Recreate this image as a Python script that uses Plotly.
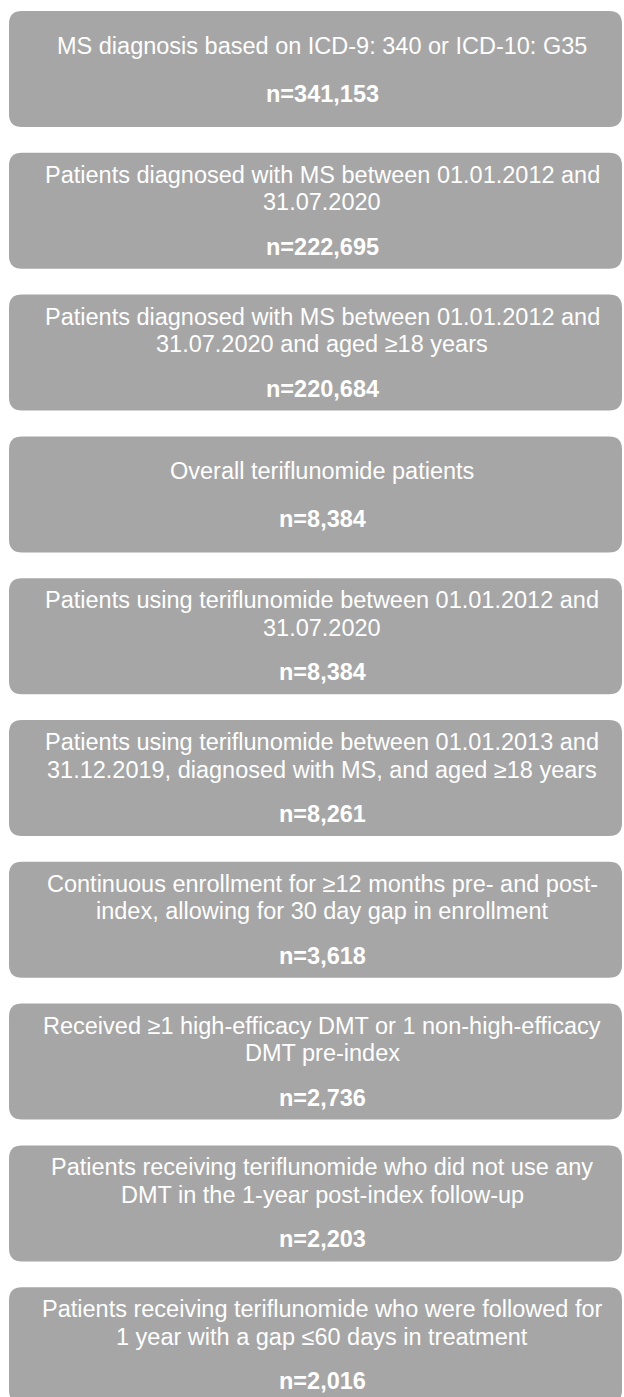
import plotly.graph_objects as go

# Data
steps = [
    "MS diagnosis based on ICD-9: 340 or ICD-10: G35",
    "Patients diagnosed with MS between 01.01.2012 and<br>31.07.2020",
    "Patients diagnosed with MS between 01.01.2012 and<br>31.07.2020 and aged ≥18 years",
    "Overall teriflunomide patients",
    "Patients using teriflunomide between 01.01.2012 and<br>31.07.2020",
    "Patients using teriflunomide between 01.01.2013 and<br>31.12.2019, diagnosed with MS, and aged ≥18 years",
    "Continuous enrollment for ≥12 months pre- and post-<br>index, allowing for 30 day gap in enrollment",
    "Received ≥1 high-efficacy DMT or 1 non-high-efficacy<br>DMT pre-index",
    "Patients receiving teriflunomide who did not use any<br>DMT in the 1-year post-index follow-up",
    "Patients receiving teriflunomide who were followed for<br>1 year with a gap ≤60 days in treatment",
]
counts = [341153, 222695, 220684, 8384, 8384, 8261, 3618, 2736, 2203, 2016]

W, H = 624, 1397
BOX_LEFT, BOX_RIGHT = 9, 622
FIRST_TOP, PITCH, BOX_H = 11, 141.8, 116
RADIUS = 13
TEXT_X = 322
FONT = "Liberation Sans, Arial, sans-serif"
FS = 23.5
GREY = "#a6a6a6"


def rounded_rect(x0, y0, x1, y1, r):
    return (f"M {x0+r},{y0} L {x1-r},{y0} Q {x1},{y0} {x1},{y0+r} "
            f"L {x1},{y1-r} Q {x1},{y1} {x1-r},{y1} L {x0+r},{y1} "
            f"Q {x0},{y1} {x0},{y1-r} L {x0},{y0+r} Q {x0},{y0} {x0+r},{y0} Z")


fig = go.Figure()
shapes = []
annotations = []
for i, (label, n) in enumerate(zip(steps, counts)):
    top = FIRST_TOP + i * PITCH
    bottom = top + BOX_H
    c = (top + bottom) / 2
    shapes.append(dict(type="path", xref="x", yref="y",
                       path=rounded_rect(BOX_LEFT, top, BOX_RIGHT, bottom, RADIUS),
                       fillcolor=GREY, line=dict(width=0), layer="below"))
    lines = label.split("<br>")
    if len(lines) == 1:
        ys = [c - 23]
        ny = c + 25
    else:
        ys = [c - 36, c - 8.5]
        ny = c + 36
    for ln, y in zip(lines, ys):
        annotations.append(dict(x=TEXT_X, y=y, xref="x", yref="y", text=ln,
                                showarrow=False, xanchor="center", yanchor="middle",
                                font=dict(family=FONT, size=FS, color="white")))
    annotations.append(dict(x=TEXT_X, y=ny, xref="x", yref="y",
                            text=f"<b>n={n:,}</b>",
                            showarrow=False, xanchor="center", yanchor="middle",
                            font=dict(family=FONT, size=FS, color="white")))

fig.update_layout(
    width=W, height=H,
    margin=dict(l=0, r=0, t=0, b=0),
    paper_bgcolor="white", plot_bgcolor="white",
    xaxis=dict(range=[0, W], visible=False, fixedrange=True),
    yaxis=dict(range=[H, 0], visible=False, fixedrange=True),
    shapes=shapes, annotations=annotations,
    showlegend=False,
)

fig.write_html(
    "out.html",
    config={"displayModeBar": False},
    post_script="document.body.style.margin='0px';document.body.style.overflow='hidden';",
)
